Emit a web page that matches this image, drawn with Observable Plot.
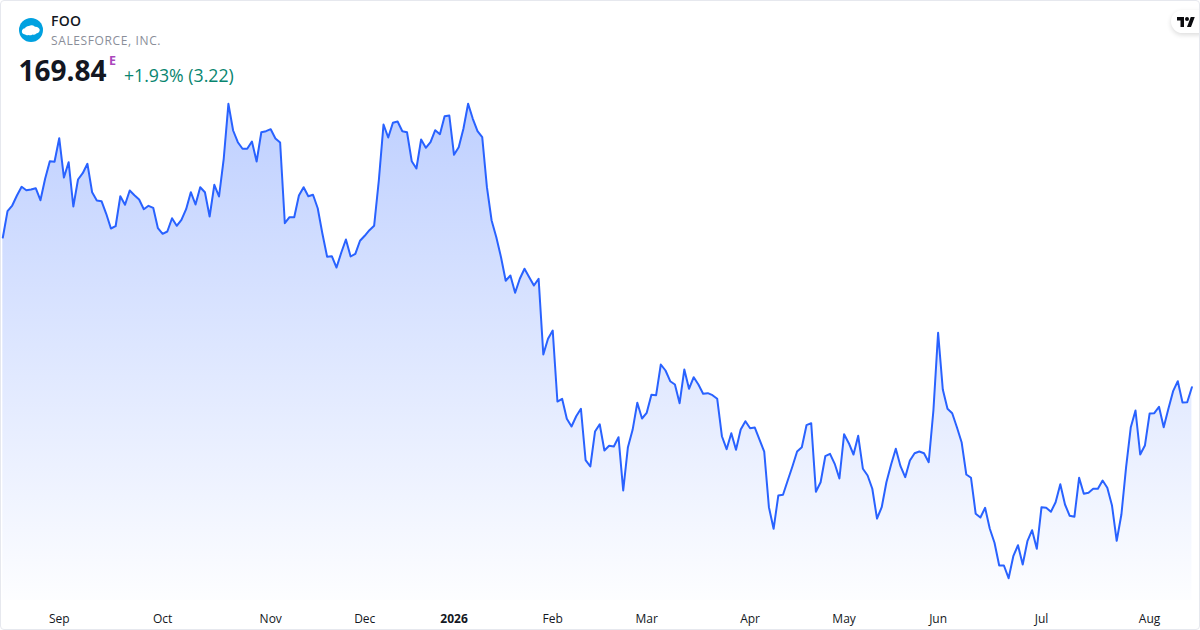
<!DOCTYPE html>
<html>
<head>
<meta charset="utf-8">
<script src="https://cdn.jsdelivr.net/npm/d3@7"></script>
<script src="https://cdn.jsdelivr.net/npm/@observablehq/plot@0.6"></script>
<style>
  html, body { margin: 0; padding: 0; background: #fff; }
  #card { position: relative; width: 1200px; height: 630px; overflow: hidden; font-family: "Open Sans", "Noto Sans", sans-serif; }
  #frame { position: absolute; inset: 0; border: 1px solid #e6e8ee; border-radius: 4px; box-sizing: border-box; pointer-events: none; }
  #chart { position: absolute; left: 0; top: 0; }
  #chart svg { display: block; }
  .t { position: absolute; white-space: nowrap; line-height: 1; }
  #sym { left: 51px; top: 14px; font-size: 14px; font-weight: 600; color: #131722; letter-spacing: .2px; }
  #name { left: 51px; top: 35px; font-size: 12px; color: #8a8e99; letter-spacing: .62px; }
  #price { left: 18.5px; top: 56px; font-size: 28px; font-weight: 700; color: #131722; }
  #flag { left: 109px; top: 55px; font-size: 12.5px; font-weight: 700; color: #ab47bc; }
  #chg { left: 124px; top: 67px; font-size: 17.7px; color: #08856f; }
  #logo { position: absolute; left: 19px; top: 18px; }
  #tv { position: absolute; left: 1171px; top: 10px; width: 40px; height: 23px; border-radius: 12px; background: #fff; box-shadow: 0 2px 5px rgba(0,0,0,.14); }
  #tv svg { position: absolute; left: 6px; top: 6px; }
</style>
</head>
<body>
<div id="card">
  <div id="chart"></div>
  <svg id="logo" width="24" height="24" viewBox="0 0 24 24"><circle cx="12" cy="12" r="12" fill="#00a1e0"/><path transform="translate(12 12) scale(1.3 1.15) translate(-12.2 -11.9)" d="M5.2 13.3c0-1.6 1-2.7 2.4-2.9.5-1.3 1.7-2.1 3-2 .7-.6 1.5-.8 2.4-.7 1 .1 1.7.6 2.2 1.3 1.9-.2 3.6 1 3.7 2.7.1 1.6-1 2.9-2.6 3.2-.8 1-2 1.3-3 .9-.8.8-2.2 1-3.2.5-.9.4-2 .2-2.6-.6-1.3.1-2.3-.9-2.3-2.2z" fill="#fff"/></svg>
  <div class="t" id="sym">FOO</div>
  <div class="t" id="name">SALESFORCE, INC.</div>
  <div class="t" id="price">169.84</div>
  <div class="t" id="flag">E</div>
  <div class="t" id="chg">+1.93% (3.22)</div>
  <div id="tv"><svg width="18" height="11" viewBox="0 0 36 22"><path d="M14 22H7V9H0V2h14v20zM28 22h-8l7.5-20h8L28 22z" fill="#0b0b0f"/><circle cx="20" cy="6" r="4" fill="#0b0b0f"/></svg></div>
  <div id="frame"></div>
</div>
<script>
const closes = [
202.04,207.70,208.92,211.07,212.95,212.21,212.36,212.64,210.06,214.67,218.45,218.32,223.39,214.94,218.23,208.71,214.51,215.87,217.89,211.78,
210.00,209.85,207.14,203.98,204.47,210.92,209.08,212.15,211.14,210.21,208.13,208.86,208.43,204.04,202.84,203.33,206.19,204.56,205.85,208.13,
211.78,209.14,212.86,211.78,206.56,213.38,210.86,218.97,230.79,225.05,222.53,221.12,221.12,222.68,218.38,224.68,224.90,225.33,223.33,222.47,
205.12,206.41,206.41,211.07,212.86,210.92,211.23,208.34,202.84,197.90,198.02,195.59,198.76,201.61,197.96,198.54,201.34,202.41,203.61,204.56,
214.30,226.34,223.54,226.71,226.98,224.90,224.68,218.45,216.88,223.11,221.33,222.53,225.11,224.25,228.12,228.27,219.83,221.46,225.42,230.79,
227.57,224.90,223.61,212.86,205.70,202.11,197.81,192.74,193.87,190.16,193.17,195.32,193.51,191.72,193.17,176.89,180.27,182.05,166.78,167.37,
163.07,161.41,163.62,165.22,154.16,152.81,160.33,161.90,156.25,157.26,157.11,159.11,147.65,156.96,160.70,166.51,163.13,164.36,168.23,168.14,
174.74,173.45,171.15,170.44,166.42,173.66,169.52,172.01,170.44,168.44,168.57,168.14,167.37,159.32,156.53,159.97,156.40,160.76,162.55,161.04,
161.19,158.61,156.03,144.06,139.42,146.57,146.73,149.80,152.81,156.03,156.96,161.69,162.12,147.37,149.43,155.02,155.54,153.39,150.23,159.75,
157.82,155.39,159.41,152.32,150.87,148.02,141.63,144.06,149.43,153.24,156.62,152.87,150.51,154.10,155.67,156.03,155.67,153.73,164.85,181.56,
169.36,165.22,164.27,161.26,158.03,151.09,150.38,142.64,141.84,143.93,139.42,136.41,131.52,131.52,128.79,133.52,135.89,131.74,136.75,139.11,
135.12,144.06,143.93,143.07,145.13,149.00,144.64,142.21,142.00,150.38,146.94,147.16,148.02,148.02,149.80,148.23,144.42,136.84,142.49,152.66,
161.26,164.85,155.39,157.32,164.20,164.27,165.65,161.26,165.22,169.00,171.15,166.57,166.62,169.84
];
const monthBars = [12, 34, 57, 77, 117, 137, 159, 179, 199, 221, 244];
const monthLabels = ["Sep", "Oct", "Nov", "Dec", "Feb", "Mar", "Apr", "May", "Jun", "Jul", "Aug"];
const yearBars = [96];
const yearLabels = ["2026"];
const baseline = 124;

const bars = closes.map((close, bar) => ({bar, close}));

const gradient = () => {
  const defs = d3.create("svg:defs");
  const g = defs.append("linearGradient").attr("id", "fade").attr("x1", 0).attr("x2", 0).attr("y1", 0).attr("y2", 1);
  g.append("stop").attr("offset", "0%").attr("stop-color", "#2962ff").attr("stop-opacity", 0.3);
  g.append("stop").attr("offset", "100%").attr("stop-color", "#2962ff").attr("stop-opacity", 0.01);
  return defs.node();
};

const plot = Plot.plot({
  width: 1200,
  height: 630,
  marginTop: 0, marginLeft: 0, marginRight: 0, marginBottom: 18,
  style: {fontFamily: '"Open Sans", "Noto Sans", sans-serif', fontSize: "12px", color: "#131722", background: "transparent"},
  x: {domain: [0, closes.length - 1], range: [2.33, 1191.4]},
  y: {domain: [117.55, 253], range: [630, 0], axis: null},
  marks: [
    gradient,
    Plot.areaY(bars, {x: "bar", y1: baseline, y2: "close", fill: "url(#fade)"}),
    Plot.lineY(bars, {x: "bar", y: "close", stroke: "#2962ff", strokeWidth: 2, strokeLinejoin: "round"}),
    Plot.axisX(monthBars, {anchor: "bottom", tickSize: 0, tickPadding: 2, label: null, fontWeight: 400,
      tickFormat: d => monthLabels[monthBars.indexOf(d)]}),
    Plot.axisX(yearBars, {anchor: "bottom", tickSize: 0, tickPadding: 2, label: null, fontWeight: 700,
      tickFormat: d => yearLabels[yearBars.indexOf(d)]})
  ]
});
document.getElementById("chart").append(plot);
</script>
</body>
</html>
